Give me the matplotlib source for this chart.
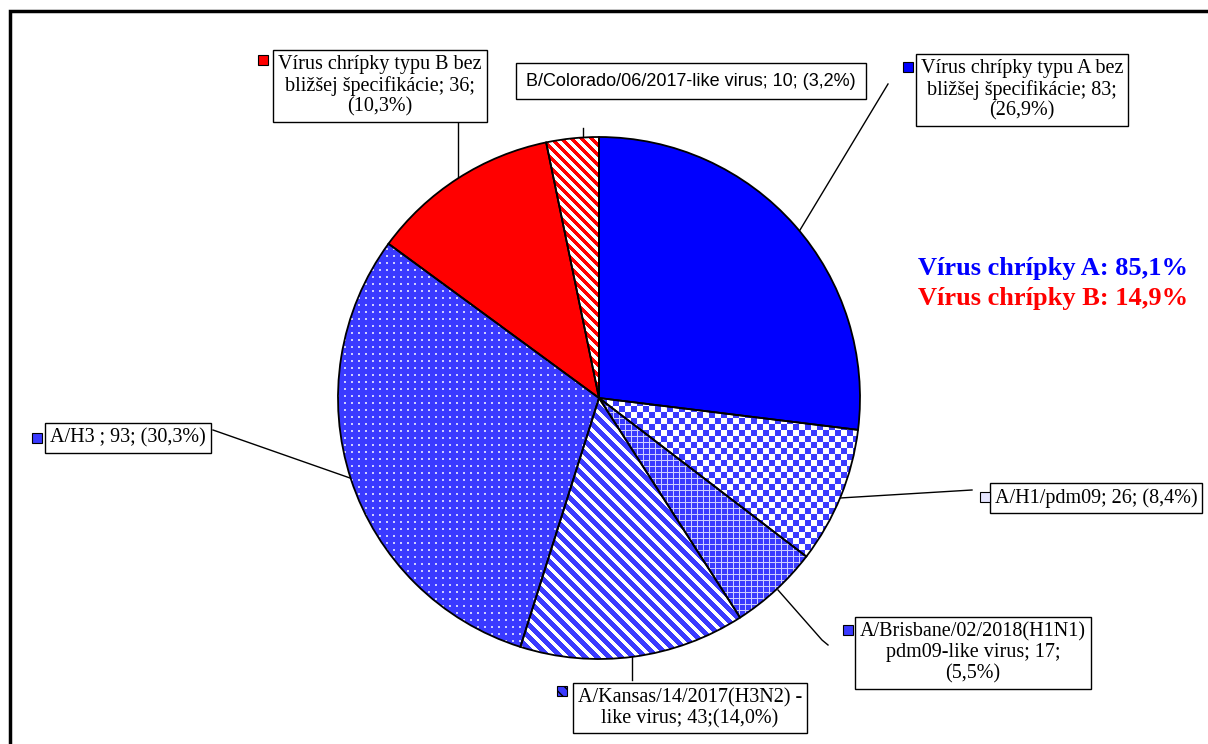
import numpy as np
import matplotlib
matplotlib.use("Agg")
import matplotlib.pyplot as plt
from matplotlib.patches import Wedge, Rectangle

# slices, clockwise from 12 o'clock
names = ["Vírus chrípky typu A bez\nbližšej špecifikácie; 83;\n(26,9%)",
         "A/H1/pdm09; 26; (8,4%)",
         "A/Brisbane/02/2018(H1N1)\npdm09-like virus; 17;\n(5,5%)",
         "A/Kansas/14/2017(H3N2) -\nlike virus; 43;(14,0%)",
         "A/H3 ; 93; (30,3%)",
         "Vírus chrípky typu B bez\nbližšej špecifikácie; 36;\n(10,3%)",
         "B/Colorado/06/2017-like virus; 10; (3,2%)"]
counts = [83, 26, 17, 43, 93, 36, 10]
patterns = ["solid_blue", "checker", "grid", "stripes_blue", "dots", "solid_red", "stripes_red"]

summary_a = "Vírus chrípky A: 85,1%"
summary_b = "Vírus chrípky B: 14,9%"

W, H = 1208, 744
BLUE = np.array([0, 0, 255]) / 255
HBLUE = np.array([58, 58, 255]) / 255
RED = np.array([255, 0, 0]) / 255
WHITE = np.array([1.0, 1.0, 1.0])
LAV = np.array([205, 205, 255]) / 255


def Y(py):
    return H - py


def texture(kind, size):
    xx, yy = np.meshgrid(np.arange(size), np.arange(size))
    img = np.ones((size, size, 3))
    if kind == "solid_blue":
        img[:] = BLUE
    elif kind == "solid_red":
        img[:] = RED
    elif kind == "checker":
        m = ((xx // 6 + yy // 6) % 2) == 0
        img[:] = WHITE
        img[m] = HBLUE
    elif kind == "grid":
        img[:] = HBLUE
        m = (xx % 6 == 0) | (yy % 6 == 0)
        img[m] = LAV
    elif kind == "stripes_blue":
        img[:] = WHITE
        img[((xx - yy) % 12) < 7] = HBLUE
    elif kind == "stripes_red":
        img[:] = WHITE
        img[((xx - yy) % 10) < 5] = RED
    elif kind == "dots":
        img[:] = HBLUE
        m = (xx % 7 < 2) & (yy % 7 < 2)
        img[m] = LAV
    return img


fig = plt.figure(figsize=(W / 100, H / 100), dpi=100)
ax = fig.add_axes([0, 0, 1, 1])

cx, cy, r = 599, Y(398), 261
wedges, _ = ax.pie(counts, startangle=90, counterclock=False, center=(cx, cy),
                   radius=r, colors=["none"] * len(counts),
                   wedgeprops=dict(linewidth=0))

size = 2 * r + 2
for w, kind in zip(wedges, patterns):
    im = ax.imshow(texture(kind, size), origin="upper", interpolation="nearest",
                   extent=(cx - r - 1, cx + r + 1, cy - r - 1, cy + r + 1), zorder=2)
    im.set_clip_path(w)
    ax.add_patch(Wedge(w.center, w.r, w.theta1, w.theta2, facecolor="none",
                       edgecolor="black", linewidth=1.3, zorder=3))

ax.set_xlim(0, W)
ax.set_ylim(0, H)
ax.set_aspect("equal")
ax.axis("off")

# leader lines (pixel coords)
leaders = [[(800, 230), (888, 84)],
           [(840, 498), (972, 490)],
           [(778, 590), (822, 640), (828, 645)],
           [(632, 657), (632, 680)],
           [(350, 478), (213, 430)],
           [(458, 178), (458, 122)],
           [(583, 138), (583, 128)]]
for pts in leaders:
    xs = [p[0] for p in pts]
    ys = [Y(p[1]) for p in pts]
    ax.plot(xs, ys, color="black", linewidth=1, zorder=1)

# label boxes: centre and small marker square position
box_pos = [(1022, 90), (1096, 498), (973, 653), (690, 708), (128, 438), (380, 86), (691, 81)]
marker_pos = [(903, 62), (980, 492), (843, 625), (557, 686), (32, 433), (258, 55), None]
marker_col = ["#0000ff", "#e6e6ff", "#3a3aff", "#3a3aff", "#3a3aff", "#ff0000", None]
serif = ["Liberation Serif", "DejaVu Serif"]
for i, (txt, (bx, by)) in enumerate(zip(names, box_pos)):
    fam = ["Liberation Sans", "DejaVu Sans"] if i == 6 else serif
    fs = 13 if i == 6 else 14.5
    pad = 0.55 if i == 6 else 0.25
    ax.text(bx, Y(by), txt, ha="center", va="center", fontsize=fs, family=fam,
            linespacing=1.13, zorder=5,
            bbox=dict(boxstyle=f"square,pad={pad}", facecolor="white",
                      edgecolor="black", linewidth=1))
    if marker_pos[i] is not None:
        mx, my = marker_pos[i]
        ax.add_patch(Rectangle((mx, Y(my + 10)), 10, 10, facecolor=marker_col[i],
                               edgecolor="black", linewidth=0.8, zorder=5,
                               hatch="\\\\\\" if i == 3 else None))

ax.text(1053, Y(269), summary_a, ha="center", va="center", fontsize=19,
        fontweight="bold", family=serif, color="#0000ff")
ax.text(1053, Y(299), summary_b, ha="center", va="center", fontsize=19,
        fontweight="bold", family=serif, color="#ff0000")

# outer frame
ax.plot([10, 10, W], [0, Y(11), Y(11)], color="black", linewidth=2.5, zorder=6,
        solid_joinstyle="miter")

fig.savefig("out.png", dpi=100)
